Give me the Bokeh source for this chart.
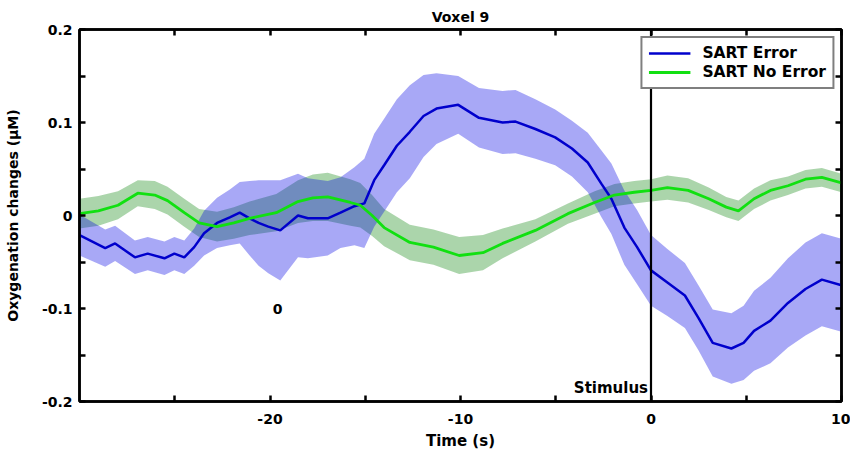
from bokeh.plotting import figure
from bokeh.models import (FixedTicker, LinearAxis, Span, Legend, LegendItem,
                          Label, Range1d)
from bokeh.embed import file_html
from bokeh.resources import INLINE

# ---------------- data ----------------
time_err = [-30.0, -28.65, -28.13, -27.09, -26.42, -25.54, -25.02, -24.50, -23.98,
            -23.46, -22.78, -22.11, -21.59, -21.07, -20.60, -20.09, -19.46, -18.53,
            -18.01, -16.97, -16.30, -15.57, -15.05, -14.53, -14.01, -13.34, -12.66,
            -11.94, -11.26, -10.12, -9.03, -7.79, -7.11, -6.07, -5.03, -4.15, -3.32,
            -2.60, -2.08, -1.40, -0.73, 0.0, 0.86, 1.78, 2.49, 3.24, 4.22, 4.86, 5.41,
            6.27, 7.19, 8.11, 8.97, 10.0]
mean_err = [-0.021, -0.035, -0.030, -0.045, -0.041, -0.046, -0.041, -0.045, -0.034,
            -0.019, -0.008, -0.002, 0.003, -0.003, -0.008, -0.012, -0.016, 0.000,
            -0.003, -0.003, 0.003, 0.010, 0.013, 0.038, 0.054, 0.075, 0.090,
            0.107, 0.115, 0.119, 0.105, 0.100, 0.101, 0.093, 0.084, 0.072, 0.057,
            0.034, 0.018, -0.013, -0.034, -0.059, -0.072, -0.086, -0.110, -0.137, -0.143,
            -0.137, -0.124, -0.113, -0.094, -0.079, -0.069, -0.075]
sem_err = [0.022, 0.020, 0.019, 0.018, 0.018, 0.018, 0.018, 0.018, 0.020,
           0.024, 0.027, 0.030, 0.033, 0.040, 0.046, 0.050, 0.054, 0.045,
           0.043, 0.040, 0.038, 0.042, 0.048, 0.050, 0.050, 0.050, 0.050,
           0.044, 0.038, 0.031, 0.032, 0.034, 0.034, 0.032, 0.030, 0.030, 0.032,
           0.036, 0.038, 0.040, 0.040, 0.038, 0.036, 0.035, 0.035, 0.036, 0.038,
           0.040, 0.043, 0.046, 0.048, 0.050, 0.050, 0.050]

time_noerr = [-30.0, -29.01, -27.98, -26.94, -26.05, -25.38, -24.50, -23.72, -22.78,
              -21.90, -21.07, -19.67, -18.53, -17.75, -16.97, -15.78, -15.26, -14.64,
              -14.01, -12.66, -11.42, -10.07, -8.82, -7.79, -6.07, -4.36, -2.96,
              -1.92, -0.88, 0.0, 0.86, 1.95, 3.03, 3.95, 4.59, 5.41, 6.27, 7.19,
              8.11, 8.97, 10.0]
mean_noerr = [0.002, 0.005, 0.011, 0.024, 0.022, 0.016, 0.003, -0.008, -0.012,
              -0.008, -0.003, 0.003, 0.015, 0.019, 0.020, 0.014, 0.011, 0.000,
              -0.013, -0.029, -0.034, -0.043, -0.040, -0.030, -0.016, 0.002, 0.014,
              0.022, 0.025, 0.027, 0.030, 0.027, 0.018, 0.009, 0.005, 0.018, 0.027,
              0.032, 0.039, 0.041, 0.035]
sem_noerr = [0.016, 0.016, 0.015, 0.014, 0.015, 0.015, 0.015, 0.015, 0.016,
             0.017, 0.018, 0.020, 0.023, 0.025, 0.026, 0.025, 0.024, 0.022,
             0.020, 0.019, 0.019, 0.020, 0.019, 0.016, 0.012, 0.011, 0.012,
             0.012, 0.012, 0.012, 0.013, 0.013, 0.012, 0.011, 0.011, 0.011, 0.011,
             0.010, 0.010, 0.010, 0.010]

x_ticks = [-20, -10, 0, 10]
x_minor = [-25, -15, -5, 5]
y_ticks = [-0.2, -0.1, 0, 0.1, 0.2]
y_minor = [-0.15, -0.05, 0.05, 0.15]
x_labels = {-20: "-20", -10: "-10", 0: "0", 10: "10"}
y_labels = {-0.2: "-0.2", -0.1: "-0.1", 0: "0", 0.1: "0.1", 0.2: "0.2"}

FONT = "DejaVu Sans"

lo_err = [m - s for m, s in zip(mean_err, sem_err)]
hi_err = [m + s for m, s in zip(mean_err, sem_err)]
lo_no = [m - s for m, s in zip(mean_noerr, sem_noerr)]
hi_no = [m + s for m, s in zip(mean_noerr, sem_noerr)]

p = figure(width=850, height=452, x_range=Range1d(-30, 10), y_range=Range1d(-0.2, 0.2),
           output_backend="svg", toolbar_location=None, title="Voxel 9",
           min_border_left=79, min_border_right=9, min_border_top=29, min_border_bottom=51)
p.title.align = "center"
p.title.text_font = FONT
p.title.text_font_size = "14px"
p.title.text_font_style = "bold"
p.title.text_color = "black"
p.title.standoff = 10
p.title.text_line_height = 1.6
p.grid.visible = False
p.outline_line_color = "black"
p.outline_line_width = 2.5
p.background_fill_color = "white"
p.border_fill_color = "white"


def style_axis(ax):
    ax.axis_line_color = "black"
    ax.axis_line_width = 2.5
    ax.major_tick_in = 6
    ax.major_tick_out = 0
    ax.minor_tick_in = 6
    ax.minor_tick_out = 0
    ax.major_tick_line_width = 2.5
    ax.minor_tick_line_width = 2.5
    ax.major_tick_line_color = "black"
    ax.minor_tick_line_color = "black"
    ax.major_label_text_font = FONT
    ax.major_label_text_font_size = "14px"
    ax.major_label_text_font_style = "bold"
    ax.major_label_text_color = "black"
    ax.axis_label_text_font = FONT
    ax.axis_label_text_font_style = "bold"
    ax.axis_label_text_color = "black"


xa = p.xaxis[0]
style_axis(xa)
xa.ticker = FixedTicker(ticks=x_ticks, minor_ticks=x_minor)
xa.major_label_overrides = x_labels
xa.axis_label = "Time (s)"
xa.axis_label_text_font_size = "15px"
xa.major_label_standoff = 12
xa.axis_label_standoff = 5

ya = p.yaxis[0]
style_axis(ya)
ya.ticker = FixedTicker(ticks=y_ticks, minor_ticks=y_minor)
ya.major_label_overrides = y_labels
ya.axis_label = "Oxygenation changes (μM)"
ya.axis_label_text_font_size = "14px"
ya.major_label_standoff = 7
ya.axis_label_standoff = 18

# box axes: tick marks only (as minor ticks, so no labels are drawn)
top = LinearAxis(ticker=FixedTicker(ticks=[], minor_ticks=x_ticks + x_minor))
style_axis(top)
top.major_label_standoff = 0
p.add_layout(top, "above")
right = LinearAxis(ticker=FixedTicker(ticks=[], minor_ticks=y_ticks + y_minor))
style_axis(right)
right.major_label_standoff = 0
p.add_layout(right, "right")

# bands
p.varea(x=time_noerr, y1=lo_no, y2=hi_no, fill_color="#007F00", fill_alpha=0.33)
p.varea(x=time_err, y1=lo_err, y2=hi_err, fill_color="#0000E6", fill_alpha=0.34)
# lines
r_err = p.line(time_err, mean_err, line_color="#0000CC", line_width=2.5)
r_no = p.line(time_noerr, mean_noerr, line_color="#11E011", line_width=2.8)

# stimulus marker
p.add_layout(Span(location=0, dimension="height", line_color="black", line_width=2.2))
p.add_layout(Label(x=0, y=-0.185, x_offset=-3, text="Stimulus", text_align="right",
                   text_baseline="middle", text_font=FONT, text_font_size="15px",
                   text_font_style="bold", text_color="black"))
p.add_layout(Label(x=-19.6, y=-0.1, text="0", text_align="center",
                   text_baseline="middle", text_font=FONT, text_font_size="14px",
                   text_font_style="bold", text_color="black"))

legend = Legend(items=[LegendItem(label="SART Error", renderers=[r_err]),
                       LegendItem(label="SART No Error", renderers=[r_no])],
                location="top_right")
legend.margin = 7
legend.padding = 6
legend.spacing = 1
legend.glyph_width = 42
legend.glyph_height = 18
legend.label_height = 18
legend.label_standoff = 12
legend.label_text_font = FONT
legend.label_text_font_size = "15.5px"
legend.label_text_font_style = "bold"
legend.label_text_color = "black"
legend.border_line_color = "black"
legend.border_line_width = 2.2
legend.background_fill_color = "white"
legend.background_fill_alpha = 1.0
p.add_layout(legend)

open("out.html", "w").write(file_html(p, INLINE))
